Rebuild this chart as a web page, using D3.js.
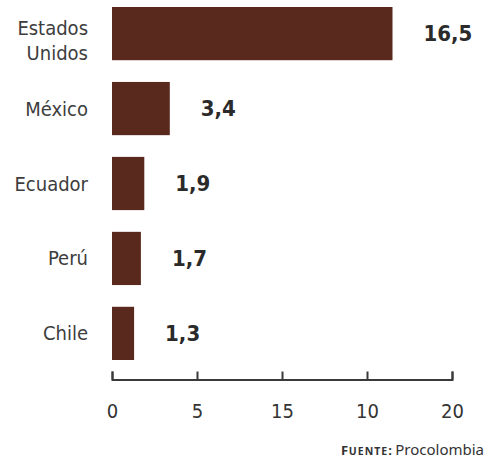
<!DOCTYPE html>
<html>
<head>
<meta charset="utf-8">
<script src="https://cdn.jsdelivr.net/npm/d3@7"></script>
<style>
  html, body { margin: 0; padding: 0; background: #fff; }
  svg { display: block; }
</style>
</head>
<body>
<script>
const categories = [["Estados", "Unidos"], ["México"], ["Ecuador"], ["Perú"], ["Chile"]];
const values = [16.5, 3.4, 1.9, 1.7, 1.3];
const valueLabels = ["16,5", "3,4", "1,9", "1,7", "1,3"];
const tickValues = [0, 5, 10, 15, 20];
const tickLabels = ["0", "5", "15", "10", "20"];
const sourceLabel = "Fuente";
const sourceText = "Procolombia";

const W = 489, H = 460;
const svg = d3.select("body").append("svg").attr("width", W).attr("height", H);

const x = d3.scaleLinear().domain([0, 20]).range([112, 452]);
const y = d3.scaleBand().domain(d3.range(values.length)).range([7, 360]).paddingInner(0.29).paddingOuter(0);

const condensed = "'DejaVu Sans Condensed', 'DejaVu Sans', sans-serif";

// bars
svg.append("g").selectAll("rect").data(values).join("rect")
  .attr("x", x(0))
  .attr("y", (d, i) => y(i))
  .attr("width", d => x(d) - x(0))
  .attr("height", y.bandwidth())
  .attr("fill", "#5a291d");

// category labels
const cat = svg.append("g").selectAll("text").data(categories).join("text")
  .attr("text-anchor", "end")
  .attr("font-family", condensed)
  .attr("font-size", 20)
  .attr("fill", "#3d3d3d");
cat.each(function(lines, i) {
  const t = d3.select(this);
  const lh = 25;
  const c = y(i) + y.bandwidth() / 2 + (lines.length - 1) * 7;
  lines.forEach((ln, k) => {
    t.append("tspan")
      .attr("x", 88)
      .attr("y", c + (k - (lines.length - 1) / 2) * lh)
      .attr("dy", "0.35em")
      .text(ln);
  });
});

// value labels
svg.append("g").selectAll("text").data(values).join("text")
  .attr("x", d => x(d) + 31)
  .attr("y", (d, i) => y(i) + y.bandwidth() / 2)
  .attr("dy", "0.35em")
  .attr("font-family", condensed)
  .attr("font-weight", "bold")
  .attr("font-size", 22)
  .attr("fill", "#2a2a2a")
  .text((d, i) => valueLabels[i]);

// axis
const axis = d3.axisBottom(x)
  .tickValues(tickValues)
  .tickFormat((d, i) => tickLabels[i])
  .tickSizeInner(-8)
  .tickSizeOuter(-8)
  .tickPadding(24);
const gx = svg.append("g").attr("transform", "translate(0,379.5)").call(axis);
gx.select(".domain").attr("stroke", "#3a3a3a").attr("stroke-width", 2).attr("fill", "none");
gx.selectAll(".tick line").attr("stroke", "#3a3a3a").attr("stroke-width", 2);
gx.selectAll(".tick text")
  .attr("font-family", condensed)
  .attr("font-size", 20)
  .attr("fill", "#333");

// source
const src = svg.append("text")
  .attr("x", 484)
  .attr("y", 455)
  .attr("text-anchor", "end")
  .attr("font-family", "'Noto Sans', sans-serif")
  .attr("fill", "#333");
src.append("tspan").attr("font-size", 13).attr("font-weight", "bold").attr("letter-spacing", 0.6).text(sourceLabel[0]);
src.append("tspan").attr("font-size", 10.5).attr("font-weight", "bold").attr("letter-spacing", 1).text(sourceLabel.slice(1).toUpperCase());
src.append("tspan").attr("font-size", 13).attr("font-weight", "bold").text(": ");
src.append("tspan").attr("font-size", 15).text(sourceText);
</script>
</body>
</html>
